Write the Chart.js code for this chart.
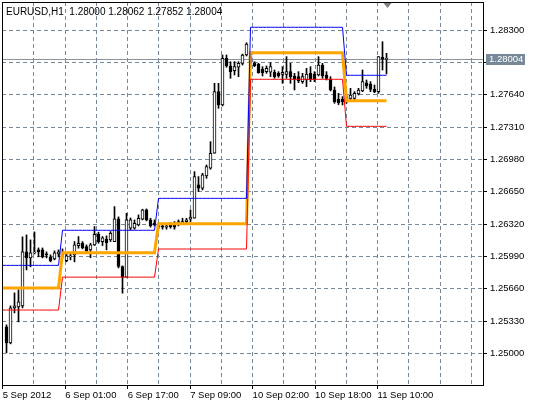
<!DOCTYPE html>
<html>
<head>
<meta charset="utf-8">
<script src="https://cdn.jsdelivr.net/npm/chart.js@4.4.0/dist/chart.umd.min.js"></script>
<style>
  html, body { margin: 0; padding: 0; background: #ffffff; }
  #wrap { width: 536px; height: 406px; position: relative; }
</style>
</head>
<body>
<div id="wrap"><canvas id="eurusdChart"></canvas></div>
<script>
var symbol = 'EURUSD,H1';

// H1 bars, oldest first
var opens = [
  1.25271, 1.25107, 1.25464, 1.25475, 1.25485, 1.26036, 1.25974, 1.26025, 1.26056, 1.26056,
  1.26015, 1.25985, 1.25964, 1.26015, 1.26036, 1.25947, 1.25985, 1.26005, 1.26100, 1.26124,
  1.26090, 1.26056, 1.26107, 1.26216, 1.26141, 1.26165, 1.26158, 1.26141, 1.26372, 1.25886,
  1.25778, 1.26277, 1.26277, 1.26311, 1.26369, 1.26464, 1.26362, 1.26328, 1.26311, 1.26301,
  1.26288, 1.26311, 1.26318, 1.26318, 1.26328, 1.26345, 1.26369, 1.26379, 1.26719, 1.26685,
  1.26811, 1.26889, 1.27042, 1.27671, 1.27535, 1.28011, 1.27933, 1.27885, 1.27920, 1.27960,
  1.28045, 1.28035, 1.27966, 1.27953, 1.27899, 1.27875, 1.27869, 1.27869, 1.27858, 1.27848,
  1.27848, 1.27875, 1.27831, 1.27824, 1.27773, 1.27790, 1.27858, 1.27848, 1.27841, 1.27943,
  1.27841, 1.27797, 1.27688, 1.27596, 1.27596, 1.27569, 1.27603, 1.27603, 1.27647, 1.27678,
  1.27762, 1.27749, 1.27695, 1.27671, 1.28022, 1.28000
];
var highs = [
  1.25291, 1.25485, 1.25617, 1.25648, 1.26189, 1.26209, 1.26158, 1.26240, 1.26076, 1.26076,
  1.26036, 1.26005, 1.26046, 1.26056, 1.26066, 1.26015, 1.26015, 1.26141, 1.26192, 1.26141,
  1.26107, 1.26124, 1.26294, 1.26237, 1.26192, 1.26199, 1.26243, 1.26498, 1.26393, 1.25893,
  1.26430, 1.26382, 1.26362, 1.26413, 1.26471, 1.26474, 1.26379, 1.26362, 1.26328, 1.26328,
  1.26328, 1.26334, 1.26345, 1.26362, 1.26379, 1.26379, 1.26464, 1.26855, 1.26804, 1.26838,
  1.26923, 1.27161, 1.27756, 1.27756, 1.28045, 1.28045, 1.27977, 1.27977, 1.27977, 1.28055,
  1.28170, 1.28065, 1.27977, 1.27960, 1.27926, 1.27933, 1.27966, 1.27892, 1.27875, 1.27926,
  1.28028, 1.27960, 1.27858, 1.27875, 1.27858, 1.27909, 1.27926, 1.27875, 1.28028, 1.27960,
  1.27875, 1.27824, 1.27719, 1.27654, 1.27620, 1.27637, 1.27705, 1.27671, 1.27705, 1.27892,
  1.27790, 1.27773, 1.27739, 1.28028, 1.28181, 1.28062
];
var lows = [
  1.25005, 1.25097, 1.25413, 1.25322, 1.25464, 1.25852, 1.25883, 1.26015, 1.25985, 1.25974,
  1.25974, 1.25934, 1.25954, 1.25985, 1.25974, 1.25934, 1.25954, 1.25934, 1.26073, 1.26066,
  1.26039, 1.25977, 1.26100, 1.26124, 1.26100, 1.26056, 1.26141, 1.26141, 1.25872, 1.25614,
  1.25778, 1.26260, 1.26267, 1.26301, 1.26362, 1.26352, 1.26288, 1.26301, 1.26270, 1.26267,
  1.26267, 1.26277, 1.26267, 1.26301, 1.26321, 1.26334, 1.26345, 1.26379, 1.26651, 1.26668,
  1.26787, 1.26879, 1.27042, 1.27501, 1.27525, 1.27920, 1.27807, 1.27841, 1.27824, 1.27943,
  1.28035, 1.27923, 1.27926, 1.27858, 1.27831, 1.27858, 1.27824, 1.27807, 1.27817, 1.27756,
  1.27807, 1.27756, 1.27688, 1.27762, 1.27756, 1.27722, 1.27773, 1.27773, 1.27831, 1.27807,
  1.27790, 1.27678, 1.27552, 1.27539, 1.27535, 1.27552, 1.27586, 1.27586, 1.27637, 1.27671,
  1.27705, 1.27671, 1.27660, 1.27654, 1.27892, 1.27852
];
var closes = [
  1.25107, 1.25464, 1.25485, 1.25526, 1.26036, 1.25974, 1.26025, 1.26036, 1.26036, 1.25985,
  1.26005, 1.25944, 1.26025, 1.26036, 1.26005, 1.25995, 1.25995, 1.26107, 1.26124, 1.26079,
  1.26046, 1.26107, 1.26216, 1.26141, 1.26178, 1.26130, 1.26226, 1.26372, 1.25886, 1.25778,
  1.26362, 1.26362, 1.26328, 1.26379, 1.26464, 1.26362, 1.26301, 1.26311, 1.26288, 1.26288,
  1.26301, 1.26294, 1.26288, 1.26345, 1.26345, 1.26362, 1.26390, 1.26804, 1.26685, 1.26821,
  1.26906, 1.27042, 1.27671, 1.27535, 1.28011, 1.27933, 1.27875, 1.27926, 1.27960, 1.28045,
  1.28157, 1.27963, 1.27936, 1.27864, 1.27864, 1.27909, 1.27926, 1.27824, 1.27831, 1.27869,
  1.27875, 1.27824, 1.27797, 1.27783, 1.27824, 1.27851, 1.27797, 1.27797, 1.27943, 1.27831,
  1.27807, 1.27688, 1.27569, 1.27558, 1.27569, 1.27617, 1.27637, 1.27654, 1.27688, 1.27773,
  1.27729, 1.27695, 1.27671, 1.28028, 1.28001, 1.28004
];

// daily channel: first bar of each day and its levels
var dayStart    = [-1, 14, 38, 61, 85];
var upperLevel  = [1.25898, 1.26256, 1.26582, 1.28328, 1.27838];
var middleLevel = [1.25667, 1.26027, 1.26323, 1.28068, 1.27578];
var lowerLevel  = [1.25442, 1.25778, 1.26065, 1.27797, 1.27317];

// time axis (positions in bars) and price axis
var timeTickPos  = [-0.95, 6.86, 14.67, 22.48, 30.29, 38.1, 45.91, 53.72, 61.53, 69.34, 77.15, 84.96, 92.77, 100.58, 108.39, 116.2];
var timeTickText = ['5 Sep 2012', '', '6 Sep 01:00', '', '6 Sep 17:00', '', '7 Sep 09:00', '', '10 Sep 02:00', '', '10 Sep 18:00', '', '11 Sep 10:00', '', '', ''];
var priceTicks = [1.25000, 1.25330, 1.25660, 1.25990, 1.26320, 1.26650, 1.26980, 1.27310, 1.27640, 1.27970, 1.28300];

var lastBar = opens.length - 1;
var gridColor = '#778899';

var wicks = [], bodies = [], bodyColors = [];
for (var i = 0; i <= lastBar; i++) {
  wicks.push({x: i, y: [lows[i], highs[i]]});
  bodies.push({x: i, y: [opens[i], closes[i]]});
  bodyColors.push(closes[i] >= opens[i] ? '#ffffff' : '#000000');
}

function channel(levels) {
  var pts = [];
  var d = 0;
  for (var b = dayStart[0]; b <= lastBar; b++) {
    while (d + 1 < dayStart.length && b >= dayStart[d + 1]) d++;
    pts.push({x: b, y: levels[d]});
  }
  return pts;
}

function noPadding(axis) {
  axis.paddingTop = 0;
  axis.paddingBottom = 0;
  axis.paddingLeft = 0;
  axis.paddingRight = 0;
}

var mt4Extras = {
  id: 'mt4Extras',
  beforeDraw: function(chart) {
    var c = chart.ctx;
    c.save();
    c.fillStyle = '#ffffff';
    c.fillRect(0, 0, chart.width, chart.height);
    c.restore();
  },
  beforeDatasetsDraw: function(chart) {
    // bid line
    var c = chart.ctx, a = chart.chartArea;
    var y = Math.round(chart.scales.y.getPixelForValue(closes[lastBar])) + 0.5;
    c.save();
    c.strokeStyle = '#8a929c';
    c.lineWidth = 1;
    c.beginPath();
    c.moveTo(a.left, y);
    c.lineTo(a.right, y);
    c.stroke();
    c.restore();
  },
  afterDraw: function(chart) {
    var c = chart.ctx, a = chart.chartArea;
    c.save();
    // frame
    c.strokeStyle = '#000000';
    c.lineWidth = 1;
    c.strokeRect(Math.round(a.left) + 0.5, Math.round(a.top) + 0.5,
                 Math.round(a.right - a.left), Math.round(a.bottom - a.top));

    // header
    c.font = '10px "Liberation Sans"';
    c.fillStyle = '#000000';
    c.textBaseline = 'middle';
    c.textAlign = 'left';
    var ohlc = [opens[lastBar], highs[lastBar], lows[lastBar], closes[lastBar]].map(function(v) { return v.toFixed(5); });
    c.fillText(symbol + '  ' + ohlc.join(' '), 6, 12);

    // bid price box on the price scale
    c.font = '9.5px "Liberation Sans"';
    var y = Math.round(chart.scales.y.getPixelForValue(closes[lastBar]));
    var bx = Math.round(a.right) + 3;
    c.fillStyle = '#778899';
    c.fillRect(bx, y - 5, 39, 11);
    c.fillStyle = '#ffffff';
    c.fillText(closes[lastBar].toFixed(5), bx + 3, y + 0.5);

    // chart shift marker
    var sx = Math.round(chart.scales.x.getPixelForValue(lastBar)) + 0.5;
    var ty = Math.round(a.top) + 1;
    c.fillStyle = '#808080';
    c.beginPath();
    c.moveTo(sx - 4, ty);
    c.lineTo(sx + 4, ty);
    c.lineTo(sx, ty + 5);
    c.closePath();
    c.fill();
    c.restore();
  }
};

Chart.defaults.font.family = '"Liberation Sans", Arial, sans-serif';
Chart.defaults.font.size = 9.5;
Chart.defaults.color = '#000000';

var ctx = document.getElementById('eurusdChart').getContext('2d');
var eurusdChart = new Chart(ctx, {
  type: 'bar',
  data: {
    datasets: [
      {
        type: 'line', label: 'Upper', data: channel(upperLevel),
        borderColor: '#0000ff', borderWidth: 1, pointRadius: 0, tension: 0, order: 0
      },
      {
        type: 'line', label: 'Lower', data: channel(lowerLevel),
        borderColor: '#ff0000', borderWidth: 1, pointRadius: 0, tension: 0, order: 0
      },
      {
        type: 'line', label: 'Middle', data: channel(middleLevel),
        borderColor: '#ffa500', borderWidth: 3, pointRadius: 0, tension: 0, order: 1
      },
      {
        label: 'Body', data: bodies,
        backgroundColor: bodyColors, borderColor: '#000000', borderWidth: 1,
        borderSkipped: false, barThickness: 3, minBarLength: 1, grouped: false, order: 2
      },
      {
        label: 'Wick', data: wicks,
        backgroundColor: '#000000', borderWidth: 0,
        barThickness: 1, grouped: false, order: 3
      }
    ]
  },
  options: {
    responsive: true,
    maintainAspectRatio: false,
    animation: false,
    events: [],
    layout: { padding: { left: 2, top: 2, right: 0, bottom: 0 } },
    scales: {
      x: {
        type: 'linear',
        position: 'bottom',
        offset: false,
        min: -1.125,
        max: 119.125,
        afterBuildTicks: function(axis) {
          axis.ticks = timeTickPos.map(function(v) { return {value: v}; });
        },
        afterFit: function(axis) { axis.height = 21; noPadding(axis); },
        border: { display: false, dash: [4, 3] },
        grid: {
          offset: false,
          color: function(c) { return c.index === 0 ? 'rgba(0,0,0,0)' : gridColor; },
          borderDash: [4, 3],
          tickLength: 4,
          tickColor: function(c) { return timeTickText[c.index] ? '#000000' : 'rgba(0,0,0,0)'; },
          tickBorderDash: []
        },
        ticks: {
          autoSkip: false,
          maxRotation: 0,
          align: 'start',
          padding: 1,
          callback: function(v, idx) { return timeTickText[idx]; }
        }
      },
      y: {
        type: 'linear',
        position: 'right',
        min: 1.24677,
        max: 1.28586,
        afterBuildTicks: function(axis) {
          axis.ticks = priceTicks.map(function(v) { return {value: v}; });
        },
        afterFit: function(axis) { axis.width = 53; noPadding(axis); },
        border: { display: false, dash: [4, 3] },
        grid: {
          color: gridColor,
          borderDash: [4, 3],
          tickLength: 4,
          tickColor: '#000000',
          tickBorderDash: []
        },
        ticks: {
          autoSkip: false,
          padding: 3,
          callback: function(v) { return v.toFixed(5); }
        }
      }
    },
    plugins: {
      legend: { display: false },
      tooltip: { enabled: false }
    }
  },
  plugins: [mt4Extras]
});
</script>
</body>
</html>
